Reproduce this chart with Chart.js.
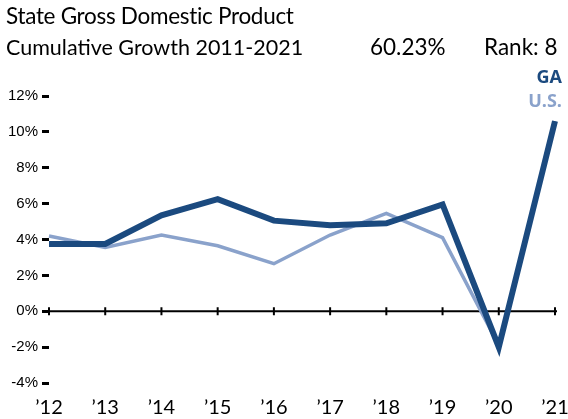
<!DOCTYPE html>
<html>
<head>
<meta charset="utf-8">
<script src="https://cdn.jsdelivr.net/npm/chart.js@4"></script>
<style>
    body { margin: 0; background: #fff; }
    .wrap { position: relative; width: 568px; height: 419px; overflow: hidden; }
    canvas { position: absolute; left: 0; top: 0; }
    .txt { position: absolute; font-family: Lato, "Open Sans", sans-serif; color: #000; white-space: nowrap; }
    .titulo { left: 6px; top: 2px; font-size: 22.5px; letter-spacing: -0.3px; }
    .sub { left: 6px; top: 34px; font-size: 21.5px; }
    .valor { left: 370px; top: 33px; font-size: 22.5px; }
    .rank { left: 484px; top: 33px; font-size: 22.5px; }
    .serie { font-family: "Open Sans", sans-serif; font-weight: bold; font-size: 18px; right: 6px; }
    .ga { top: 64px; color: #1b4a7f; }
    .us { top: 88px; color: #8aa2cb; }
</style>
</head>
<body>
<div class="wrap">
    <canvas id="graficoPib" width="568" height="419"></canvas>
    <div class="txt titulo">State Gross Domestic Product</div>
    <div class="txt sub">Cumulative Growth 2011-2021</div>
    <div class="txt valor">60.23%</div>
    <div class="txt rank">Rank: 8</div>
    <div class="txt serie ga">GA</div>
    <div class="txt serie us">U.S.</div>
</div>
<script>
const anios = ['\u201912', '\u201913', '\u201914', '\u201915', '\u201916', '\u201917', '\u201918', '\u201919', '\u201920', '\u201921'];
const crecimientoGA = [3.75, 3.75, 5.35, 6.25, 5.05, 4.8, 4.9, 5.95, -2.0, 10.6];
const crecimientoUS = [4.2, 3.55, 4.25, 3.65, 2.65, 4.25, 5.45, 4.1, -1.9, 10.6];
const ticksY = [-4, -2, 0, 2, 4, 6, 8, 10, 12];

// linea del cero con marcas en cada anio
const lineaCero = {
    id: 'lineaCero',
    beforeDatasetsDraw(chart) {
        const { ctx, scales: { x, y } } = chart;
        const y0 = y.getPixelForValue(0);
        ctx.save();
        ctx.strokeStyle = '#000';
        ctx.lineWidth = 2;
        ctx.beginPath();
        ctx.moveTo(chart.chartArea.left - 6, y0);
        ctx.lineTo(chart.chartArea.right + 2, y0);
        ctx.stroke();
        anios.forEach((a, i) => {
            const px = x.getPixelForValue(i);
            ctx.beginPath();
            ctx.moveTo(px, y0 - 4);
            ctx.lineTo(px, y0 + 4);
            ctx.stroke();
        });
        ctx.restore();
    }
};

new Chart(document.getElementById('graficoPib').getContext('2d'), {
    type: 'line',
    data: {
        labels: anios,
        datasets: [
            {
                label: 'GA',
                data: crecimientoGA,
                borderColor: '#1b4a7f',
                borderWidth: 6,
                borderJoinStyle: 'miter',
                pointRadius: 0,
                tension: 0,
                fill: false
            },
            {
                label: 'U.S.',
                data: crecimientoUS,
                borderColor: '#8aa2cb',
                borderWidth: 3.5,
                pointRadius: 0,
                tension: 0,
                fill: false
            }
        ]
    },
    options: {
        responsive: false,
        animation: false,
        layout: { padding: { top: 96, right: 0, left: 0, bottom: 0 } },
        plugins: { legend: { display: false }, tooltip: { enabled: false } },
        scales: {
            x: {
                offset: false,
                grid: { display: false },
                border: { display: false },
                ticks: {
                    padding: 5,
                    color: '#000',
                    maxRotation: 0,
                    autoSkip: false,
                    font: { family: 'Lato', size: 20 }
                },
                afterFit(scale) {
                    scale.height = 36;
                    scale.paddingRight = 13;
                }
            },
            y: {
                min: -4,
                max: 12,
                afterBuildTicks(scale) { scale.ticks = ticksY.map(v => ({ value: v })); },
                grid: {
                    drawOnChartArea: false,
                    drawTicks: true,
                    tickLength: 7,
                    tickWidth: 3,
                    tickColor: '#000'
                },
                border: { display: false },
                ticks: {
                    padding: 4,
                    color: '#000',
                    font: { family: 'Liberation Sans', size: 15 },
                    callback: v => v + '%'
                },
                afterFit(scale) { scale.width = 49; }
            }
        }
    },
    plugins: [lineaCero]
});
</script>
</body>
</html>
